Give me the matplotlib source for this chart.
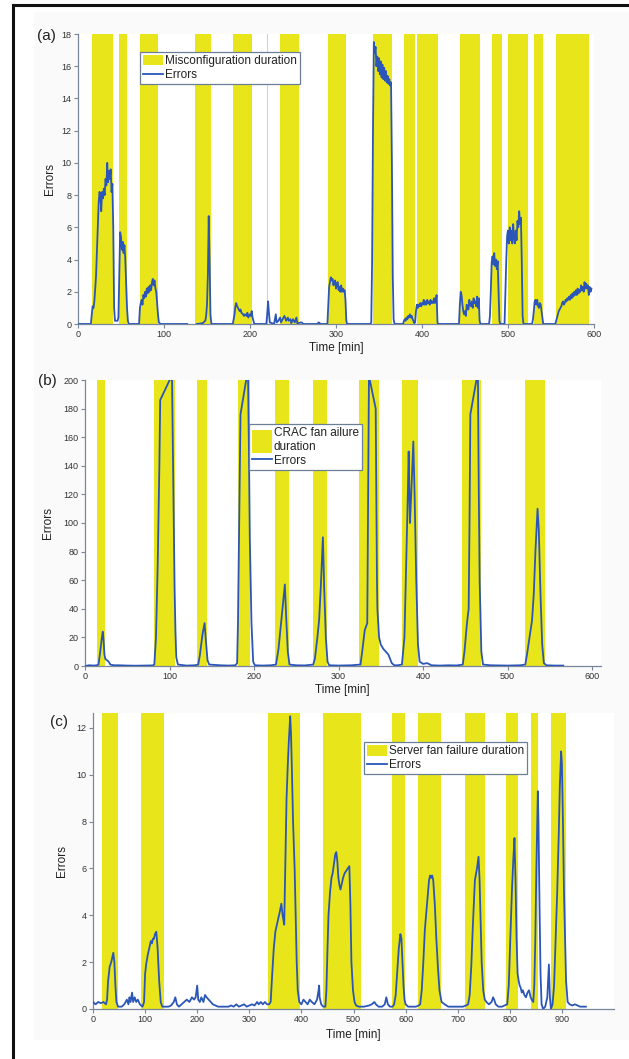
import numpy as np
import matplotlib
matplotlib.use("Agg")
import matplotlib.pyplot as plt
from matplotlib.lines import Line2D
from matplotlib.patches import Rectangle
from matplotlib.legend_handler import HandlerPatch

plt.rcParams['font.family'] = ['Liberation Sans', 'DejaVu Sans']

nan = float('nan')

# ---------------- data ----------------
# (a) misconfiguration
a_start = [16.3, 47.2, 71.9, 136.3, 180.2, 219.5, 234.9, 290.9, 342.7, 379.1, 394.5, 444.5, 480.9, 499.6, 529.9, 555.6]
a_end = [40.2, 57.4, 93.4, 154.1, 202.6, 221.5, 257.3, 311.4, 365.1, 392.2, 418.3, 467.4, 493.0, 522.9, 541.1, 594.4]
a_points = [(0,0),(15,0),(16,0.6),(17,1.1),(18,1.0),(19,1.4),(21,3.0),(23,6.0),(24,7.5),(25,8.2),(26,8.0),(27,7.0),(28,8.2),(29,7.8),(30,8.4),(31,8.0),(32,9.0),(33,8.6),(34,10.0),(35,8.8),(36,9.5),(37,9.0),(38,9.6),(39,8.2),(40,8.7),(41,6.0),(42,1.0),(43,0.2),(46,0.2),(47,0.4),(48,3.0),(49,5.7),(50,5.4),(51,4.6),(52,5.1),(53,4.4),(54,4.9),(55,4.0),(56,2.5),(57,1.0),(58,0.2),(59,0),(71,0),(72,1.0),(73,1.3),(74,1.5),(75,1.2),(76,1.8),(77,1.6),(78,2.0),(79,1.7),(80,2.2),(81,1.9),(82,2.3),(83,2.0),(84,2.4),(85,2.1),(86,2.6),(87,2.8),(88,2.4),(89,2.7),(90,2.2),(91,2.0),(92,1.3),(93,0.6),(94,0.1),(96,0),(127,0),(128,nan),(138,0),(145,0.05),(148,0.2),(149,0.5),(150,1.2),(151,3.0),(152,6.7),(153,4.0),(154,0.6),(155,0.05),(156,0),(180,0),(182,0.6),(183,1.1),(184,1.3),(185,1.1),(186,1.0),(188,0.8),(189,0.9),(190,0.7),(192,0.6),(193,0.5),(194,0.6),(196,0.5),(197,0.7),(198,0.4),(200,0.6),(201,0.5),(202,0.8),(203,0.4),(204,0.2),(205,0),(219,0),(220,0.6),(221,1.4),(222,0.7),(223,0.1),(228,0),(230,0.6),(231,0.1),(233,0.2),(235,0.4),(236,0.1),(238,0.3),(240,0.5),(242,0.2),(244,0.4),(245,0.2),(247,0.3),(248,0.05),(250,0.3),(252,0.1),(254,0.4),(255,0.05),(260,0.1),(262,0),(278,0),(280,0.1),(282,0),(290,0),(291,1.2),(292,2.3),(293,2.6),(294,2.9),(295,2.7),(296,2.8),(297,2.4),(298,2.6),(299,2.7),(300,2.2),(301,2.5),(302,2.6),(303,2.1),(304,2.3),(305,2.0),(306,2.4),(307,2.0),(308,2.2),(309,2.0),(310,2.1),(311,1.5),(312,0.2),(313,0),(340,0),(341,0.1),(342,4.0),(343,12.0),(344,17.5),(345,16.8),(346,17.2),(347,16.0),(348,16.6),(349,15.7),(350,16.5),(351,15.5),(352,16.3),(353,15.3),(354,16.1),(355,15.2),(356,15.9),(357,15.1),(358,15.7),(359,15.0),(360,15.4),(361,14.9),(362,15.2),(363,14.8),(364,15.0),(365,10.0),(366,3.0),(367,0.3),(368,0),(378,0),(379,0.2),(380,0.3),(381,0.2),(382,0.4),(383,0.3),(384,0.5),(385,0.4),(386,0.6),(387,0.4),(388,0.5),(389,0.3),(390,0.2),(391,0.05),(392,0.1),(393,0.8),(394,1.2),(395,1.0),(396,1.2),(397,1.1),(398,1.3),(399,1.1),(400,1.3),(401,1.2),(402,1.5),(403,1.2),(404,1.4),(405,1.2),(406,1.5),(407,1.3),(408,1.4),(409,1.2),(410,1.5),(411,1.3),(412,1.4),(413,1.3),(414,1.6),(415,1.3),(416,1.5),(417,1.8),(418,0.1),(419,0),(443,0),(444,1.2),(445,2.0),(446,1.8),(447,1.2),(448,0.8),(449,0.6),(450,0.8),(451,0.5),(452,1.2),(453,1.0),(454,0.9),(455,1.5),(456,1.2),(457,1.1),(458,1.4),(459,1.0),(460,1.6),(461,1.3),(462,1.4),(463,1.1),(464,1.7),(465,1.0),(466,1.6),(467,0.2),(468,0),(478,0),(479,0.5),(480,2.0),(481,3.8),(482,4.2),(483,3.7),(484,4.4),(485,3.6),(486,4.0),(487,3.4),(488,3.9),(489,2.0),(490,0.2),(491,0),(496,0),(497,2.0),(498,4.0),(499,5.5),(500,5.8),(501,5.0),(502,6.0),(503,5.2),(504,5.8),(505,5.0),(506,6.2),(507,5.4),(508,5.0),(509,5.8),(510,5.2),(511,6.4),(512,6.0),(513,7.0),(514,6.2),(515,6.6),(516,4.0),(517,0.5),(518,0),(528,0),(529,0.3),(530,0.8),(531,1.4),(532,1.5),(533,1.2),(534,1.5),(535,1.1),(536,1.0),(537,1.3),(538,1.2),(539,0.8),(540,0.4),(541,0),(555,0),(556,0.2),(557,0.4),(558,0.6),(559,0.8),(560,0.9),(561,1.0),(562,1.1),(563,1.3),(564,1.4),(565,1.2),(566,1.3),(567,1.5),(568,1.4),(569,1.6),(570,1.5),(571,1.7),(572,1.5),(573,1.8),(574,1.6),(575,1.9),(576,1.7),(577,2.0),(578,1.8),(579,2.1),(580,1.8),(581,2.2),(582,1.9),(583,2.1),(584,2.0),(585,2.4),(586,2.1),(587,2.3),(588,2.0),(589,2.6),(590,2.2),(591,2.5),(592,2.2),(593,2.4),(594,1.8),(595,2.3),(596,2.0),(597,2.2)]

# (b) CRAC fan failure
b_start = [14.3, 81.2, 132.5, 180.5, 225.2, 269.4, 324.5, 374.8, 445.6, 520.2]
b_end = [23.8, 106.9, 144.9, 194.8, 241.3, 286.5, 347.7, 394.3, 468.4, 543.9]
b_points = [(0,0),(5,0.5),(10,0.3),(14,0.5),(16,1),(18,10),(20,20),(21,24),(22,18),(23,8),(24,5),(26,4),(28,3),(30,1),(34,0.5),(40,0.5),(50,0.3),(60,0.2),(70,0.3),(80,0.4),(82,1),(84,20),(86,70),(88,140),(89,186),(101,201),(103,200),(104,150),(105,100),(106,55),(107,25),(108,6),(110,1),(120,0.3),(130,0.5),(134,1),(136,8),(139,22),(141.5,30),(143,18),(145,4),(147,1),(160,0.5),(170,0.3),(178,0.5),(180,2),(181,30),(183,130),(184,176),(191,201),(193,200),(194,150),(195,90),(197,30),(199,3),(201,0.5),(210,0.3),(220,0.5),(226,1),(229,12),(232,30),(234,42),(236.5,57),(238,35),(240,10),(242,1),(250,0.5),(260,0.4),(270,1),(272,5),(275,20),(277,32),(279,55),(281.5,90),(283,55),(285,20),(287,3),(289,0.5),(300,0.3),(315,0.5),(326,1),(328,10),(331,25),(334,30),(336,201),(337,200),(344,180),(345.5,60),(346,40),(348,20),(350,15),(353,12),(356,10),(359,8),(361,5),(363,2),(366,0.5),(370,0.5),(375,1),(378,20),(380,70),(382,120),(383,150),(384.5,100),(386,120),(388.5,157),(390,120),(392,60),(394,15),(396,3),(400,1.5),(405,2),(410,0.5),(420,0.3),(430,0.5),(440,0.4),(447,1),(449,10),(452,30),(454,40),(455,100),(456,176),(463.5,201),(465,200),(466,120),(467,60),(469,10),(471,1),(480,0.5),(500,0.3),(515,0.5),(521,1),(523,8),(526,20),(529,32),(531,50),(533,80),(535.5,110),(537,95),(539,50),(541,15),(543,2),(546,0.5),(555,0.3),(566,0.3)]

# (c) server fan failure
c_start = [17.7, 91.5, 335.4, 441.5, 574.6, 623.8, 713.8, 792.3, 840.0, 880.0]
c_end = [48.5, 136.9, 396.9, 513.8, 599.2, 667.7, 751.5, 815.4, 853.8, 907.7]
c_points = [(0,0.3),(5,0.2),(10,0.3),(15,0.25),(20,0.3),(25,0.2),(27,0.4),(29,1.2),(32,1.8),(35,2.0),(37,2.2),(39,2.4),(41,2.0),(43,1.0),(45,0.3),(48,0.1),(55,0.1),(60,0.2),(65,0.4),(68,0.2),(70,0.5),(72,0.3),(75,0.7),(77,0.3),(80,0.5),(83,0.3),(86,0.4),(90,0.2),(95,0.1),(98,0.3),(100,1.5),(102,1.9),(105,2.3),(108,2.6),(111,2.9),(113,2.8),(115,3.0),(117,3.0),(119,3.2),(121.5,3.3),(124,2.6),(127,1.2),(130,0.3),(133,0.1),(140,0.1),(145,0.1),(150,0.15),(155,0.3),(158,0.5),(161,0.2),(165,0.1),(170,0.2),(175,0.3),(180,0.4),(185,0.3),(190,0.5),(194,0.4),(197,0.5),(200,1.0),(202,0.4),(205,0.3),(208,0.5),(212,0.3),(215,0.6),(218,0.5),(222,0.4),(226,0.3),(230,0.2),(235,0.15),(240,0.1),(250,0.1),(260,0.1),(265,0.15),(270,0.1),(275,0.2),(280,0.1),(285,0.15),(290,0.2),(295,0.1),(300,0.15),(305,0.2),(310,0.15),(315,0.3),(318,0.2),(322,0.3),(326,0.2),(330,0.3),(334,0.2),(338,0.2),(341,0.3),(344,1.5),(347,2.6),(350,3.3),(353,3.6),(356,3.9),(359,4.2),(361.5,4.5),(364,4.0),(367,3.6),(369,6.0),(371.5,9.0),(374,10.5),(376,11.5),(378.5,12.5),(380,11.8),(382,10.0),(384,8.0),(387,6.0),(389,4.0),(391,2.0),(393,0.8),(396,0.3),(400,0.2),(404,0.4),(408,0.3),(412,0.2),(416,0.4),(420,0.3),(425,0.2),(430,0.4),(433,0.8),(434,1.0),(435,0.5),(438,0.2),(442,0.1),(446,0.1),(448,0.8),(450,2.5),(452,4.0),(455,5.0),(457.7,5.6),(460,5.8),(463,6.3),(465,6.6),(467,6.7),(469,6.3),(471,5.6),(473,5.3),(475,5.1),(477,5.3),(480,5.6),(483,5.8),(486,5.9),(489,6.0),(492,6.1),(494,4.5),(496,2.0),(499,0.8),(502,0.3),(505,0.15),(510,0.1),(520,0.1),(530,0.15),(535,0.2),(540,0.3),(543,0.2),(548,0.1),(555,0.1),(560,0.2),(563,0.5),(566,0.2),(570,0.1),(575,0.1),(578,0.2),(581,0.6),(584,1.6),(587,2.6),(590,3.2),(592,3.0),(594,2.0),(596,1.0),(598,0.4),(600,0.2),(605,0.1),(612,0.1),(620,0.1),(625,0.15),(628,0.2),(631,0.8),(634,2.0),(637,3.4),(640,4.2),(643,5.0),(645,5.5),(647,5.7),(649,5.6),(651,5.7),(653,5.5),(656,4.5),(659,3.0),(662,1.8),(665,0.8),(669,0.3),(675,0.2),(682,0.1),(690,0.1),(700,0.1),(710,0.1),(716,0.15),(720,0.2),(723,0.6),(726,1.8),(729,3.5),(733,5.5),(737,6.0),(740,6.5),(742,5.5),(744,3.8),(746,2.0),(749,0.8),(752,0.4),(755,0.3),(760,0.2),(765,0.3),(768,0.5),(770,0.4),(773,0.2),(778,0.1),(785,0.1),(790,0.15),(795,0.2),(798,1.0),(801,3.0),(804,5.0),(807,6.5),(809,7.3),(811,5.5),(813,3.0),(815,1.5),(817,1.2),(819,1.0),(821,0.9),(823,0.7),(825,0.8),(828,0.6),(831,0.5),(834,0.7),(837,0.8),(840,0.5),(842,0.4),(845,0.3),(847,1.0),(849,3.0),(851,6.0),(853.8,9.3),(855,8.0),(857,4.5),(859,1.5),(861,0.2),(864,0.0),(868,0.1),(872,0.5),(875,1.9),(877,0.5),(879,0.0),(882,0.2),(885,1.0),(888,3.0),(891,5.0),(894,7.5),(896,9.5),(898.5,11.0),(900,10.5),(902,8.0),(904,5.0),(906,3.0),(908,1.2),(911,0.3),(915,0.2),(920,0.15),(925,0.2),(930,0.15),(935,0.1),(940,0.1),(946,0.1)]

a_yticks = list(range(0, 19, 2))
b_yticks = list(range(0, 201, 20))
c_yticks = list(range(0, 13, 2))
a_xticks = list(range(0, 601, 100))
b_xticks = list(range(0, 601, 100))
c_xticks = list(range(0, 901, 100))

a_band_label = "Misconfiguration duration"
b_band_label = "CRAC fan ailure\nduration"
c_band_label = "Server fan failure duration"
line_label = "Errors"

# ---------------- style ----------------
YELLOW = '#e8e51a'
BLUE = '#2b56b8'
AXC = '#7a8699'
W, H = 629, 1059

fig = plt.figure(figsize=(W / 100, H / 100), dpi=100, facecolor='white')
fig.add_artist(Rectangle((34 / W, 1 - 1040 / H), 1 - 34 / W, (1040 - 12) / H,
                         transform=fig.transFigure, facecolor='#fafafb', edgecolor='none', zorder=-5))
fig.add_artist(Line2D([13 / W, 1], [1 - 5 / H, 1 - 5 / H], transform=fig.transFigure, color='#111111', lw=2.2))
fig.add_artist(Line2D([13 / W, 13 / W], [0, 1 - 5 / H], transform=fig.transFigure, color='#111111', lw=2.2))


def tall_patch(scale):
    def make(legend, orig_handle, xdescent, ydescent, width, height, fontsize):
        h = height * scale
        return Rectangle((-xdescent, -ydescent - (h - height) * 0.62), width, h)
    return make


def panel(rect, starts, ends, pts, xlim, ylim, xticks, yticks, band_label, tag, tag_xy,
          ylabel_x, xlabel_y, leg_anchor, patch_scale=1.0, lw=1.3):
    ax = fig.add_axes(rect)
    ax.set_facecolor('white')
    spans = []
    for i, (s, e) in enumerate(zip(starts, ends)):
        sp_ = ax.axvspan(s, e, ymin=0, ymax=1, facecolor=YELLOW, edgecolor='none',
                         label=band_label if i == 0 else None, zorder=1)
        spans.append(sp_)
    t, v = zip(*pts)
    ax.plot(t, v, color=BLUE, lw=lw, label=line_label, zorder=3)
    ax.set_xlim(*xlim)
    ax.set_ylim(*ylim)
    ax.set_xticks(xticks)
    ax.set_yticks(yticks)
    for sp in ['top', 'right']:
        ax.spines[sp].set_visible(False)
    for sp in ['left', 'bottom']:
        ax.spines[sp].set_color(AXC)
        ax.spines[sp].set_linewidth(0.9)
    ax.tick_params(axis='both', colors=AXC, labelcolor='#333333', labelsize=6.5,
                   length=3, width=0.8, direction='out', pad=1.5)
    ax.set_xlabel('Time [min]', fontsize=8.5, color='#222222')
    ax.xaxis.set_label_coords(0.5, xlabel_y)
    ax.set_ylabel('Errors', fontsize=8.5, color='#222222')
    ax.yaxis.set_label_coords(ylabel_x, 0.5)
    hmap = {}
    if patch_scale != 1.0:
        hmap = {spans[0]: HandlerPatch(patch_func=tall_patch(patch_scale))}
    leg = ax.legend(loc='upper left', bbox_to_anchor=leg_anchor, borderaxespad=0,
                    fontsize=8.5, frameon=True, fancybox=False, framealpha=1,
                    edgecolor='#6b7f99', borderpad=0.25, labelspacing=0.15,
                    handlelength=1.7, handletextpad=0.15, handleheight=1.0,
                    handler_map=hmap)
    leg.get_frame().set_linewidth(0.9)
    for txt in leg.get_texts():
        txt.set_color('#222222')
    fig.text(tag_xy[0] / W, 1 - tag_xy[1] / H, tag, fontsize=11, ha='center', va='center', color='#222222')
    return ax


panel([78 / W, 1 - 324 / H, (594 - 78) / W, 290 / H], a_start, a_end, a_points,
      (0, 600), (0, 18), a_xticks, a_yticks, a_band_label, '(a)', (46, 36),
      -0.043, -0.062, (0.12, 0.938))

panel([85 / W, 1 - 666 / H, 515.5 / W, 286 / H], b_start, b_end, b_points,
      (0, 610), (0, 200), b_xticks, b_yticks, b_band_label, '(b)', (47, 381),
      -0.06, -0.064, (0.318, 0.846), patch_scale=2.2)

panel([93 / W, 1 - 1009 / H, 521 / W, 296 / H], c_start, c_end, c_points,
      (0, 1000), (0, 12.64), c_xticks, c_yticks, c_band_label, '(c)', (59, 722),
      -0.048, -0.068, (0.52, 0.902))

fig.savefig('out.png', dpi=100, facecolor='white')
